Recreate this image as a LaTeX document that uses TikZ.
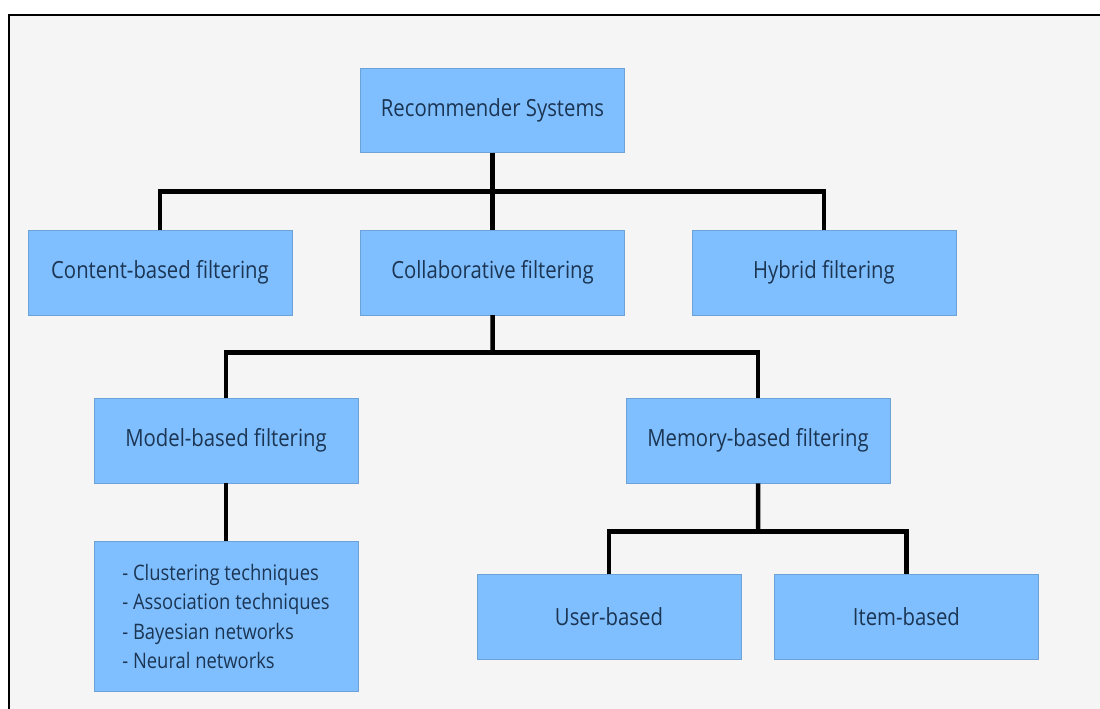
\documentclass[tikz,border=0pt]{standalone}
\usepackage{fontspec}
\setmainfont{Open Sans}[FakeStretch=0.86]
\usepackage{tikz}
\usetikzlibrary{positioning,calc}
\definecolor{boxBlue}{HTML}{80BFFF}
\definecolor{textNavy}{HTML}{1B3553}
\definecolor{bgGray}{HTML}{F5F5F5}

\begin{document}
\begin{tikzpicture}[
    x=0.025cm, y=-0.025cm,
    box/.style={rectangle, fill=boxBlue, draw=boxBlue!85!black, line width=0.3pt,
                minimum width=6.6cm, minimum height=2.12cm,
                text=textNavy, font=\fontsize{16.8}{21}\selectfont},
    link/.style={line width=3.2pt, line join=miter},
]
    \useasboundingbox (0,0) rectangle (1100,709);
    \fill[white] (0,0) rectangle (1100,709);
    \draw[line width=1.5pt, fill=bgGray] (9,15) rectangle (1130,740);

    \node[box] (cbf) at (160,272.5) {Content-based filtering};
    \node[box, right=1.7cm of cbf] (cf) {Collaborative filtering};
    \node[box, right=1.675cm of cf] (hf) {Hybrid filtering};
    \node[box, above=1.925cm of cf] (rs) {Recommender Systems};
    \node[box, below left=2.075cm and 0.05cm of cf] (mbf) {Model-based filtering};
    \node[box, below right=2.075cm and 0.025cm of cf] (memf) {Memory-based filtering};
    \node[box, below=1.45cm of mbf, minimum height=3.75cm, align=left,
          font=\fontsize{15.2}{21}\selectfont] (tech)
         {- Clustering techniques\\- Association techniques\\- Bayesian networks\\- Neural networks};
    \node[box, below=2.275cm of memf, xshift=-3.725cm] (ub) {User-based};
    \node[box, right=0.825cm of ub] (ib) {Item-based};

    \coordinate (j1) at ($(rs.south)!0.5!(cf.north)$);
    \coordinate (j2) at ($(cf.south)!0.45!(cf.south |- mbf.north)$);
    \coordinate (j3) at ($(memf.south)!0.53!(memf.south |- ub.north)$);
    \draw[link] (rs.south) -- (cf.north);
    \draw[link] (cbf.north) |- (j1) -| (hf.north);
    \draw[link] (cf.south) -- (j2);
    \draw[link] (mbf.north) |- (j2) -| (memf.north);
    \draw[link] (mbf.south) -- (tech.north);
    \draw[link] (memf.south) -- (j3);
    \draw[link] (ub.north) |- (j3) -| (ib.north);
\end{tikzpicture}
\end{document}
